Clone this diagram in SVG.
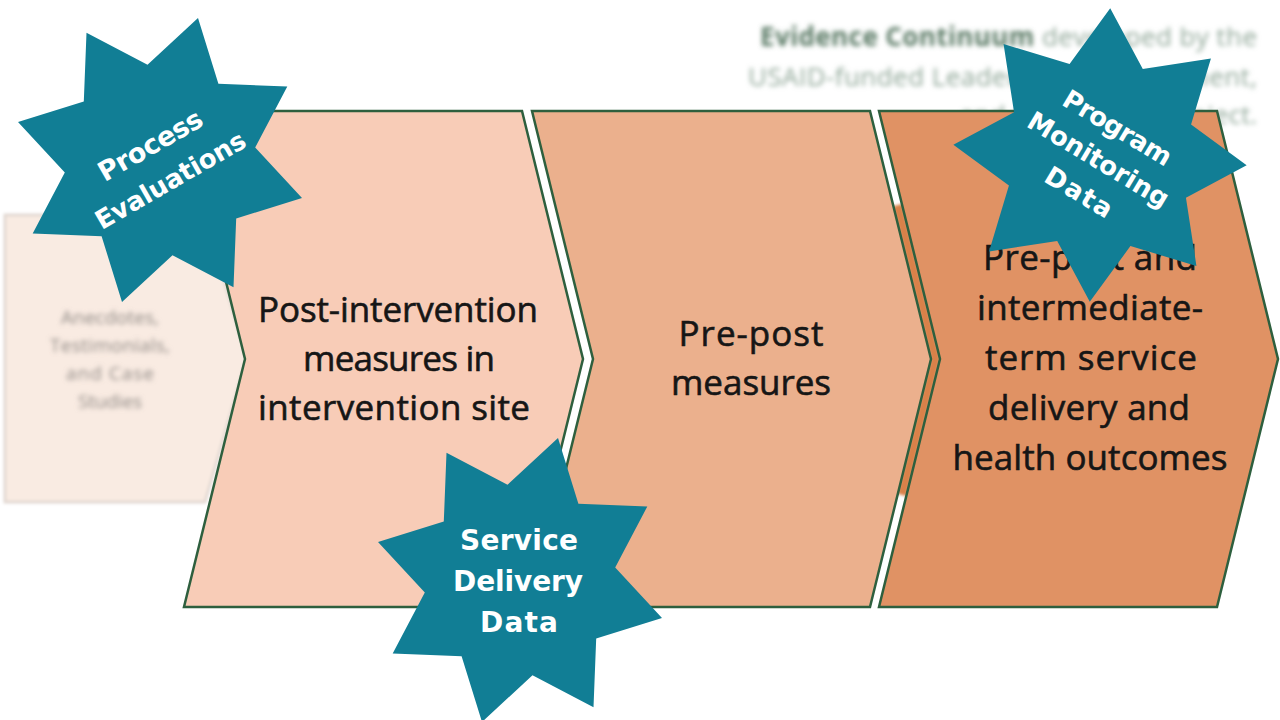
<svg xmlns="http://www.w3.org/2000/svg" xmlns:xlink="http://www.w3.org/1999/xlink" width="1280" height="720" viewBox="0 0 1280 720">
  <style>
    .chev { stroke: #2e5f3e; stroke-width: 2.5; stroke-linejoin: miter; }
    .main { font-family: "Open Sans", "Liberation Sans", sans-serif; font-size: 35px; fill: #161616; stroke: #161616; stroke-width: 0.6; text-anchor: middle; }
    .star { fill: #117e95; }
    .stext { font-family: "DejaVu Sans", "Liberation Sans", sans-serif; font-weight: bold; fill: #ffffff; text-anchor: middle; }
    .faded { font-family: "Open Sans", "Liberation Sans", sans-serif; font-size: 19px; fill: #8f8985; text-anchor: middle; }
    .title { font-family: "Open Sans", "Liberation Sans", sans-serif; font-size: 26px; fill: #8ea596; text-anchor: end; }
  </style>
  <defs>
    <filter id="blur" x="-10%" y="-20%" width="120%" height="140%">
      <feGaussianBlur stdDeviation="2.8"/>
    </filter>
    <filter id="blurSoft" x="-10%" y="-10%" width="120%" height="120%">
      <feGaussianBlur stdDeviation="1.8"/>
    </filter>
    <polygon id="starShape" points="-12.5,-95.2 38,-142 58.4,-76.2 127.3,-73.5 95.2,-12.5 142,38 76.2,58.4 73.5,127.3 12.5,95.2 -38,142 -58.4,76.2 -127.3,73.5 -95.2,12.5 -142,-38 -76.2,-58.4 -73.5,-127.3"/>
  </defs>

  <rect x="0" y="0" width="1280" height="720" fill="#ffffff"/>

  <!-- blurred background caption -->
  <g id="caption" filter="url(#blur)">
    <text class="title" x="1257" y="46" textLength="497"><tspan font-weight="bold" fill="#577762">Evidence Continuum</tspan> developed by the</text>
    <text class="title" x="1257" y="86" textLength="509">USAID-funded Leadership, Management,</text>
    <text class="title" x="1257" y="124">and Governance Project.</text>
  </g>

  <!-- blurred first stage -->
  <g id="stage0">
    <polygon points="5,215 205,215 247,358 205,502 5,502" fill="#f9ebe2" stroke="#e3d9d3" stroke-width="3" filter="url(#blurSoft)"/>
    <g filter="url(#blur)">
      <text class="faded" x="110" y="324" textLength="98">Anecdotes,</text>
      <text class="faded" x="110" y="352" textLength="120">Testimonials,</text>
      <text class="faded" x="110" y="380" textLength="88">and Case</text>
      <text class="faded" x="110" y="408" textLength="64">Studies</text>
    </g>
  </g>

  <!-- orange strip showing through the gap between stage 2 and 3 -->
  <polyline points="897.6,205 935.5,359 902,495" fill="none" stroke="#d9814a" stroke-width="10" filter="url(#blurSoft)"/>

  <g id="stage1">
    <polygon class="chev" points="184,111 522,111 583,359 522,607 184,607 245,359" fill="#f8ccb7"/>
    <text class="main" x="398" y="322" textLength="280">Post-intervention</text>
    <text class="main" x="399" y="371" textLength="192">measures in</text>
    <text class="main" x="394" y="420" textLength="272">intervention site</text>
  </g>

  <g id="stage2">
    <polygon class="chev" points="532,111 870,111 931,359 870,607 532,607 593,359" fill="#ebb08d"/>
    <text class="main" x="751" y="346" textLength="145">Pre-post</text>
    <text class="main" x="751" y="395" textLength="160">measures</text>
  </g>

  <g id="stage3">
    <polygon class="chev" points="879,111 1217,111 1278,359 1217,607 879,607 940,359" fill="#e09264"/>
    <text class="main" x="1090" y="270" textLength="214">Pre-post and</text>
    <text class="main" x="1090" y="320" textLength="226">intermediate-</text>
    <text class="main" x="1091" y="370" textLength="212">term service</text>
    <text class="main" x="1089" y="420" textLength="202">delivery and</text>
    <text class="main" x="1090" y="470" textLength="275">health outcomes</text>
  </g>

  <g id="connectors"></g>

  <g id="star-process">
    <use xlink:href="#starShape" href="#starShape" class="star" transform="translate(160,160)"/>
    <g transform="translate(160,162) rotate(-30)">
      <text class="stext" x="0" y="-10" font-size="27" textLength="116">Process</text>
      <text class="stext" x="0" y="30" font-size="26" textLength="169">Evaluations</text>
    </g>
  </g>

  <g id="star-service">
    <use xlink:href="#starShape" href="#starShape" class="star" transform="translate(520,580)"/>
    <text class="stext" x="519" y="550" font-size="28" textLength="118">Service</text>
    <text class="stext" x="518" y="591" font-size="28" textLength="130">Delivery</text>
    <text class="stext" x="519" y="632" font-size="28" textLength="78">Data</text>
  </g>

  <g id="star-monitoring">
    <use xlink:href="#starShape" href="#starShape" class="star" transform="translate(1100,155) rotate(-11)"/>
    <g transform="translate(1100,157) rotate(31)">
      <text class="stext" x="0" y="-25" font-size="26" textLength="122">Program</text>
      <text class="stext" x="0" y="12" font-size="26" textLength="160">Monitoring</text>
      <text class="stext" x="0" y="50" font-size="26" textLength="74">Data</text>
    </g>
  </g>
</svg>
